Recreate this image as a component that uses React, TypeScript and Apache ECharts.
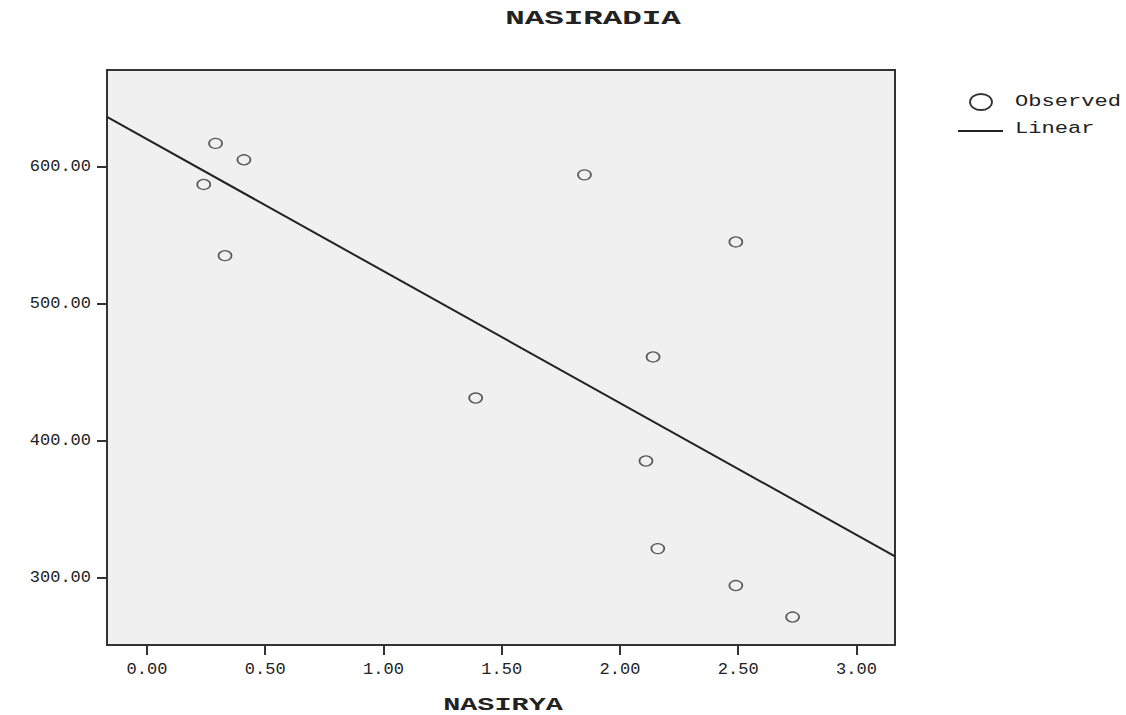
import React, { useEffect, useRef } from "react";
import * as echarts from "echarts";

const chartTitle = "NASIRADIA";
const xAxisName = "NASIRYA";
const legendLabels = ["Observed", "Linear"];

const xObserved = [0.29, 0.41, 0.24, 0.33, 1.39, 1.85, 2.49, 2.14, 2.11, 2.16, 2.49, 2.73];
const yObserved = [617, 605, 587, 535, 431, 594, 545, 461, 385, 321, 294, 271];

const xTickValues = [0, 0.5, 1, 1.5, 2, 2.5, 3];
const yTickValues = [300, 400, 500, 600];
const xRange = [-0.169, 3.163];
const yRange = [250.6, 670.6];

function fitLine(xs: number[], ys: number[]) {
  const n = xs.length;
  const mx = xs.reduce((a, b) => a + b, 0) / n;
  const my = ys.reduce((a, b) => a + b, 0) / n;
  let sxy = 0;
  let sxx = 0;
  for (let i = 0; i < n; i++) {
    sxy += (xs[i] - mx) * (ys[i] - my);
    sxx += (xs[i] - mx) * (xs[i] - mx);
  }
  const slope = sxy / sxx;
  return { slope, intercept: my - slope * mx };
}

const MONO = "'Liberation Mono', 'Courier New', monospace";
const INK = "#222";

export default function App() {
  const ref = useRef<HTMLDivElement>(null);

  useEffect(() => {
    const chart = echarts.init(ref.current!, null, { renderer: "svg" });
    const { slope, intercept } = fitLine(xObserved, yObserved);
    const lineData = xRange.map((x) => [x, intercept + slope * x]);
    const scatterData = xObserved.map((x, i) => [x, yObserved[i]]);

    chart.setOption({
      animation: false,
      backgroundColor: "#ffffff",
      grid: {
        left: 107,
        right: 231,
        top: 70,
        bottom: 70,
        show: true,
        backgroundColor: "#f0f0f0",
        borderColor: "#333",
        borderWidth: 2,
      },
      xAxis: {
        type: "value",
        min: xRange[0],
        max: xRange[1],
        axisLine: { show: false, onZero: false },
        splitLine: { show: false },
        axisTick: {
          show: true,
          length: 10,
          customValues: xTickValues,
          lineStyle: { color: "#333", width: 2 },
        },
        axisLabel: {
          customValues: xTickValues,
          formatter: (v: number) => v.toFixed(2),
          fontFamily: MONO,
          fontSize: 17,
          color: INK,
          margin: 16,
        },
      },
      yAxis: {
        type: "value",
        min: yRange[0],
        max: yRange[1],
        axisLine: { show: false, onZero: false },
        splitLine: { show: false },
        axisTick: {
          show: true,
          length: 10,
          customValues: yTickValues,
          lineStyle: { color: "#333", width: 2 },
        },
        axisLabel: {
          customValues: yTickValues,
          formatter: (v: number) => v.toFixed(2),
          fontFamily: MONO,
          fontSize: 17,
          color: INK,
          margin: 16,
        },
      },
      series: [
        {
          name: legendLabels[0],
          type: "scatter",
          data: scatterData,
          symbol: "circle",
          symbolSize: [13, 10],
          itemStyle: { color: "#f0f0f0", borderColor: "#333", borderWidth: 1.5 },
          z: 3,
        },
        {
          name: legendLabels[1],
          type: "line",
          data: lineData,
          showSymbol: false,
          symbol: "none",
          clip: true,
          lineStyle: { color: INK, width: 2 },
          z: 2,
        },
      ],
      graphic: [
        {
          type: "text",
          x: 593,
          y: 18,
          scaleX: 1.55,
          style: {
            text: chartTitle,
            fontFamily: MONO,
            fontWeight: "bold",
            fontSize: 21,
            fill: INK,
            textAlign: "center",
            textVerticalAlign: "middle",
          },
        },
        {
          type: "text",
          x: 503,
          y: 705,
          scaleX: 1.5,
          style: {
            text: xAxisName,
            fontFamily: MONO,
            fontWeight: "bold",
            fontSize: 19,
            fill: INK,
            textAlign: "center",
            textVerticalAlign: "middle",
          },
        },
        {
          type: "ellipse",
          shape: { cx: 981, cy: 102, rx: 11, ry: 8 },
          style: { fill: "#fff", stroke: "#333", lineWidth: 1.8 },
        },
        {
          type: "text",
          x: 1015,
          y: 102,
          scaleX: 1.3,
          style: {
            text: legendLabels[0],
            fontFamily: MONO,
            fontSize: 17,
            fill: INK,
            textAlign: "left",
            textVerticalAlign: "middle",
          },
        },
        {
          type: "line",
          shape: { x1: 958, y1: 131, x2: 1003, y2: 131 },
          style: { stroke: INK, lineWidth: 2 },
        },
        {
          type: "text",
          x: 1015,
          y: 129,
          scaleX: 1.3,
          style: {
            text: legendLabels[1],
            fontFamily: MONO,
            fontSize: 17,
            fill: INK,
            textAlign: "left",
            textVerticalAlign: "middle",
          },
        },
      ],
    });

    return () => chart.dispose();
  }, []);

  return (
    <div
      ref={ref}
      style={{ position: "absolute", left: 0, top: 0, width: 1126, height: 715 }}
    />
  );
}
